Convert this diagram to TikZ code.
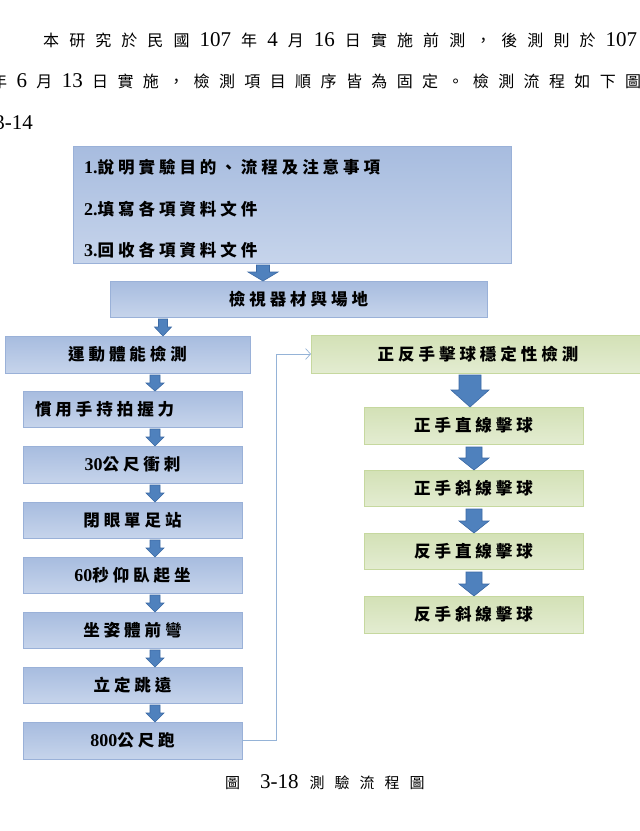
\documentclass[tikz,border=0pt]{standalone}
\usepackage{fontspec}
\usetikzlibrary{arrows.meta}
\setmainfont{Liberation Serif}
\newfontfamily\cjkt{Noto Sans CJK TC}
\newfontfamily\cjkb{Noto Sans CJK TC}[LetterSpace=24]
\newcommand\bnum[1]{{\rmfamily\fontsize{21}{21}\selectfont #1}}
\newcommand\xnum[1]{{\rmfamily\bfseries\fontsize{18}{18}\selectfont #1}}
\definecolor{blueT}{HTML}{A7BCDF}
\definecolor{blueB}{HTML}{C6D4EB}
\definecolor{boxline}{HTML}{9AB1D8}
\definecolor{greenT}{HTML}{D3E1B6}
\definecolor{greenB}{HTML}{E3ECD1}
\definecolor{gline}{HTML}{C6D89F}
\definecolor{arrowfill}{HTML}{4F81BD}
\definecolor{arrowline}{HTML}{3C6AA5}
\definecolor{connc}{HTML}{95B3D7}
\tikzset{
  boxfont/.style={font=\cjkb\bfseries\fontsize{16.5}{18}\selectfont},
  bbox/.style={draw=boxline, top color=blueT, bottom color=blueB, line width=0.8pt,
    inner sep=0pt, outer sep=0pt, boxfont, text=black},
  gbox/.style={draw=gline, top color=greenT, bottom color=greenB, line width=0.8pt,
    inner sep=0pt, outer sep=0pt, boxfont, text=black},
  boxtext/.style={anchor=west, inner sep=0pt, boxfont, text=black},
  barrow/.style={fill=arrowfill, draw=arrowline, line width=0.6pt},
  conn/.style={draw=connc, line width=0.7pt, -{Straight Barb[length=5pt,width=11pt]}},
  bodytext/.style={anchor=base west, inner sep=0pt, font=\cjkt\fontsize{16}{16}\selectfont}
}
% cx, top, tip, head width, shaft width, head start
\newcommand\blockdown[6]{\draw[barrow] ({#1-#5/2},#2) -- ({#1+#5/2},#2) -- ({#1+#5/2},#6) -- ({#1+#4/2},#6) -- (#1,#3) -- ({#1-#4/2},#6) -- ({#1-#5/2},#6) -- cycle;}
\begin{document}
\begin{tikzpicture}[x=1pt,y=-1pt]
\useasboundingbox (0,0) rectangle (640,831);
\clip (0,0) rectangle (640,831);
\fill[white] (0,0) rectangle (640,831);

% body text
\node[bodytext] (l1) at (43,46) {\hbox to 594pt{本\hfill 研\hfill 究\hfill 於\hfill 民\hfill 國\hfill\bnum{107}\hfill 年\hfill\bnum{4}\hfill 月\hfill\bnum{16}\hfill 日\hfill 實\hfill 施\hfill 前\hfill 測\hfill ，\hfill 後\hfill 測\hfill 則\hfill 於\hfill\bnum{107}}};
\node[bodytext] (l2) at (-9,87) {\hbox to 650pt{年\hfill\bnum{6}\hfill 月\hfill\bnum{13}\hfill 日\hfill 實\hfill 施\hfill ，\hfill 檢\hfill 測\hfill 項\hfill 目\hfill 順\hfill 序\hfill 皆\hfill 為\hfill 固\hfill 定\hfill 。\hfill 檢\hfill 測\hfill 流\hfill 程\hfill 如\hfill 下\hfill 圖}};
\node[bodytext, anchor=base east] (l3) at (33,129) {\bnum{3-14}};

% top box
\node[bbox, minimum width=438pt, minimum height=117pt] (top) at (292,204.5) {};
\node[boxtext] (t1) at (84,167) {\xnum{1.}說明實驗目的、流程及注意事項};
\node[boxtext] (t2) at (84,209) {\xnum{2.}填寫各項資料文件};
\node[boxtext] (t3) at (84,250) {\xnum{3.}回收各項資料文件};
\node[bbox, minimum width=377pt, minimum height=36pt] (insp) at (298.5,299) {檢視器材與場地};

% left column
\node[bbox, minimum width=245pt, minimum height=37pt] (pe) at (127.5,354.5) {運動體能檢測};
\node[bbox, minimum width=219pt, minimum height=36pt, text width=195pt, align=left, inner xsep=12pt] (b1) at (132.5,409) {慣用手持拍握力};
\node[bbox, minimum width=219pt, minimum height=37pt] (b2) at (132.5,464.5) {\xnum{30}公尺衝刺};
\node[bbox, minimum width=219pt, minimum height=36pt] (b3) at (132.5,520) {閉眼單足站};
\node[bbox, minimum width=219pt, minimum height=36pt] (b4) at (132.5,575) {\xnum{60}秒仰臥起坐};
\node[bbox, minimum width=219pt, minimum height=36pt] (b5) at (132.5,630) {坐姿體前彎};
\node[bbox, minimum width=219pt, minimum height=36pt] (b6) at (132.5,685) {立定跳遠};
\node[bbox, minimum width=219pt, minimum height=37pt] (b7) at (132.5,740.5) {\xnum{800}公尺跑};

% right column
\node[gbox, minimum width=334pt, minimum height=38pt] (g0) at (478,354) {正反手擊球穩定性檢測};
\node[gbox, minimum width=219pt, minimum height=37pt] (g1) at (473.5,425.5) {正手直線擊球};
\node[gbox, minimum width=219pt, minimum height=36pt] (g2) at (473.5,488) {正手斜線擊球};
\node[gbox, minimum width=219pt, minimum height=36pt] (g3) at (473.5,551) {反手直線擊球};
\node[gbox, minimum width=219pt, minimum height=37pt] (g4) at (473.5,614.5) {反手斜線擊球};

% block arrows
\blockdown{263}{265}{281}{30}{13}{272}
\blockdown{163}{319}{336}{17}{9}{327}
\blockdown{155}{375}{391}{18}{10}{383}
\blockdown{155}{429}{446}{18}{10}{437}
\blockdown{155}{485}{502}{18}{10}{493}
\blockdown{155}{540}{557}{18}{10}{548}
\blockdown{155}{595}{612}{18}{10}{603}
\blockdown{155}{650}{667}{18}{10}{658}
\blockdown{155}{705}{722}{18}{10}{713}
\blockdown{470}{375}{407}{38}{22}{390}
\blockdown{474}{447}{470}{30}{16}{458}
\blockdown{474}{509}{533}{30}{16}{521}
\blockdown{474}{572}{596}{30}{16}{584}

% connector
\draw[conn] (b7.east) -- ++(34,0) |- (g0.west);

% caption
\node[bodytext, font=\cjkt\fontsize{15}{15}\selectfont] (cap) at (225,788) {圖\hspace{20pt}\bnum{3-18}\hspace{11pt}測\hspace{10pt}驗\hspace{10pt}流\hspace{10pt}程\hspace{10pt}圖};
\end{tikzpicture}
\end{document}
